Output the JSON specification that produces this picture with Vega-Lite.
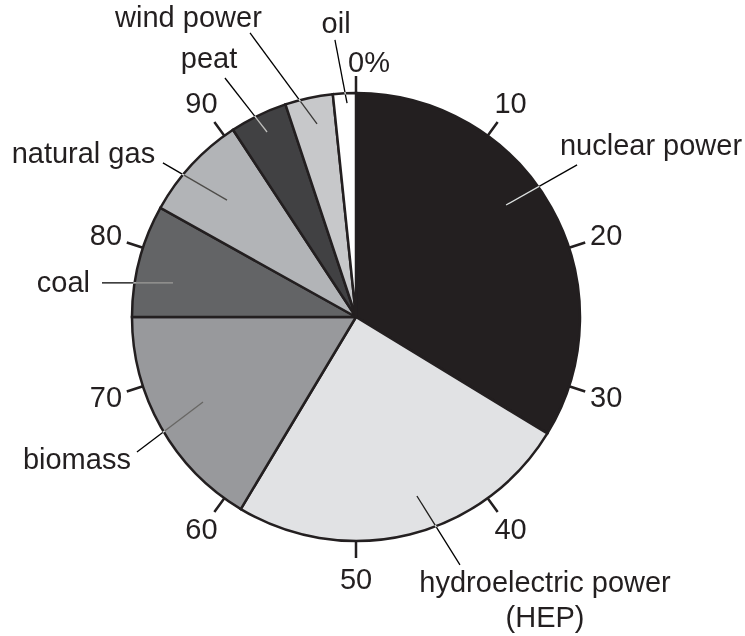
{
  "$schema": "https://vega.github.io/schema/vega-lite/v6.json",
  "width": 712,
  "height": 634,
  "autosize": {"type": "none"},
  "padding": {"left": 0, "top": 0, "right": 33, "bottom": 2},
  "background": "white",
  "config": {
    "view": {"stroke": null},
    "text": {"font": "Liberation Sans", "fontSize": 29, "fill": "#231f20"}
  },
  "datasets": {
    "sources": [
      {"source": "nuclear power", "share": 33.7, "rank": 1},
      {"source": "hydroelectric power", "share": 24.9, "rank": 2},
      {"source": "biomass", "share": 16.4, "rank": 3},
      {"source": "coal", "share": 8.1, "rank": 4},
      {"source": "natural gas", "share": 7.65, "rank": 5},
      {"source": "peat", "share": 4.15, "rank": 6},
      {"source": "wind power", "share": 3.45, "rank": 7},
      {"source": "oil", "share": 1.65, "rank": 8}
    ],
    "ticks": [
      {"pct": 0}, {"pct": 10}, {"pct": 20}, {"pct": 30}, {"pct": 40},
      {"pct": 50}, {"pct": 60}, {"pct": 70}, {"pct": 80}, {"pct": 90}
    ],
    "tickLabels": [
      {"pct": 10, "label": "10"}, {"pct": 20, "label": "20"}, {"pct": 30, "label": "30"},
      {"pct": 40, "label": "40"}, {"pct": 50, "label": "50"}, {"pct": 60, "label": "60"},
      {"pct": 70, "label": "70"}, {"pct": 80, "label": "80"}, {"pct": 90, "label": "90"}
    ],
    "zero": [{"pct": 0, "label": "0%"}],
    "leaders": [
      {"source": "nuclear power", "x1": 0.670, "y1": 0.500, "x2": 0.987, "y2": 0.679},
      {"source": "hydroelectric power", "x1": 0.272, "y1": -0.799, "x2": 0.464, "y2": -1.107},
      {"source": "biomass", "x1": -0.683, "y1": -0.379, "x2": -0.978, "y2": -0.603},
      {"source": "coal", "x1": -0.817, "y1": 0.152, "x2": -1.134, "y2": 0.152},
      {"source": "natural gas", "x1": -0.576, "y1": 0.522, "x2": -0.862, "y2": 0.688},
      {"source": "peat", "x1": -0.397, "y1": 0.826, "x2": -0.585, "y2": 1.067},
      {"source": "wind power", "x1": -0.174, "y1": 0.862, "x2": -0.473, "y2": 1.268},
      {"source": "oil", "x1": -0.040, "y1": 0.955, "x2": -0.094, "y2": 1.237}
    ],
    "labels": [
      {"label": "nuclear power", "x": 1.317, "y": 0.723},
      {"label": "hydroelectric power\n(HEP)", "x": 0.844, "y": -1.228},
      {"label": "biomass", "x": -1.246, "y": -0.679},
      {"label": "coal", "x": -1.306, "y": 0.112},
      {"label": "natural gas", "x": -1.217, "y": 0.688},
      {"label": "peat", "x": -0.656, "y": 1.112},
      {"label": "wind power", "x": -0.748, "y": 1.295},
      {"label": "oil", "x": -0.089, "y": 1.268}
    ]
  },
  "layer": [
    {
      "data": {"name": "sources"},
      "mark": {"type": "arc", "radius": 224, "stroke": "#231f20", "strokeWidth": 2.5},
      "encoding": {
        "theta": {"field": "share", "type": "quantitative", "stack": true,
          "scale": {"domain": [0, 100], "range": [0, 6.283185307179586]}},
        "order": {"field": "rank", "type": "quantitative"},
        "color": {"field": "source", "type": "nominal", "legend": null,
          "scale": {
            "domain": ["nuclear power", "hydroelectric power", "biomass", "coal", "natural gas", "peat", "wind power", "oil"],
            "range": ["#231f20", "#e1e2e4", "#98999c", "#636466", "#b2b4b7", "#414143", "#c7c8ca", "#ffffff"]
          }}
      }
    },
    {
      "data": {"name": "ticks"},
      "mark": {"type": "arc", "radius": 241, "radius2": 224, "filled": false, "stroke": "#231f20", "strokeWidth": 2.5},
      "encoding": {
        "theta": {"field": "pct", "type": "quantitative", "stack": null,
          "scale": {"domain": [0, 100], "range": [0, 6.283185307179586]}},
        "theta2": {"field": "pct"}
      }
    },
    {
      "data": {"name": "tickLabels"},
      "mark": {"type": "text", "radius": 263, "align": "center", "baseline": "middle"},
      "encoding": {
        "theta": {"field": "pct", "type": "quantitative", "stack": null,
          "scale": {"domain": [0, 100], "range": [0, 6.283185307179586]}},
        "text": {"field": "label"}
      }
    },
    {
      "data": {"name": "zero"},
      "mark": {"type": "text", "radius": 254, "align": "left", "baseline": "middle", "dx": -8},
      "encoding": {
        "theta": {"field": "pct", "type": "quantitative", "stack": null,
          "scale": {"domain": [0, 100], "range": [0, 6.283185307179586]}},
        "text": {"field": "label"}
      }
    },
    {
      "data": {"name": "leaders"},
      "mark": {"type": "rule", "stroke": "white", "strokeWidth": 1.3, "blend": "difference"},
      "encoding": {
        "x": {"field": "x1", "type": "quantitative", "axis": null,
          "scale": {"domain": [-1.58929, 1.58929], "nice": false, "zero": false}},
        "y": {"field": "y1", "type": "quantitative", "axis": null,
          "scale": {"domain": [-1.41518, 1.41518], "nice": false, "zero": false}},
        "x2": {"field": "x2"},
        "y2": {"field": "y2"}
      }
    },
    {
      "data": {"name": "labels"},
      "mark": {"type": "text", "align": "center", "baseline": "alphabetic", "lineBreak": "\n", "lineHeight": 35},
      "encoding": {
        "x": {"field": "x", "type": "quantitative", "axis": null,
          "scale": {"domain": [-1.58929, 1.58929], "nice": false, "zero": false}},
        "y": {"field": "y", "type": "quantitative", "axis": null,
          "scale": {"domain": [-1.41518, 1.41518], "nice": false, "zero": false}},
        "text": {"field": "label"}
      }
    }
  ]
}
